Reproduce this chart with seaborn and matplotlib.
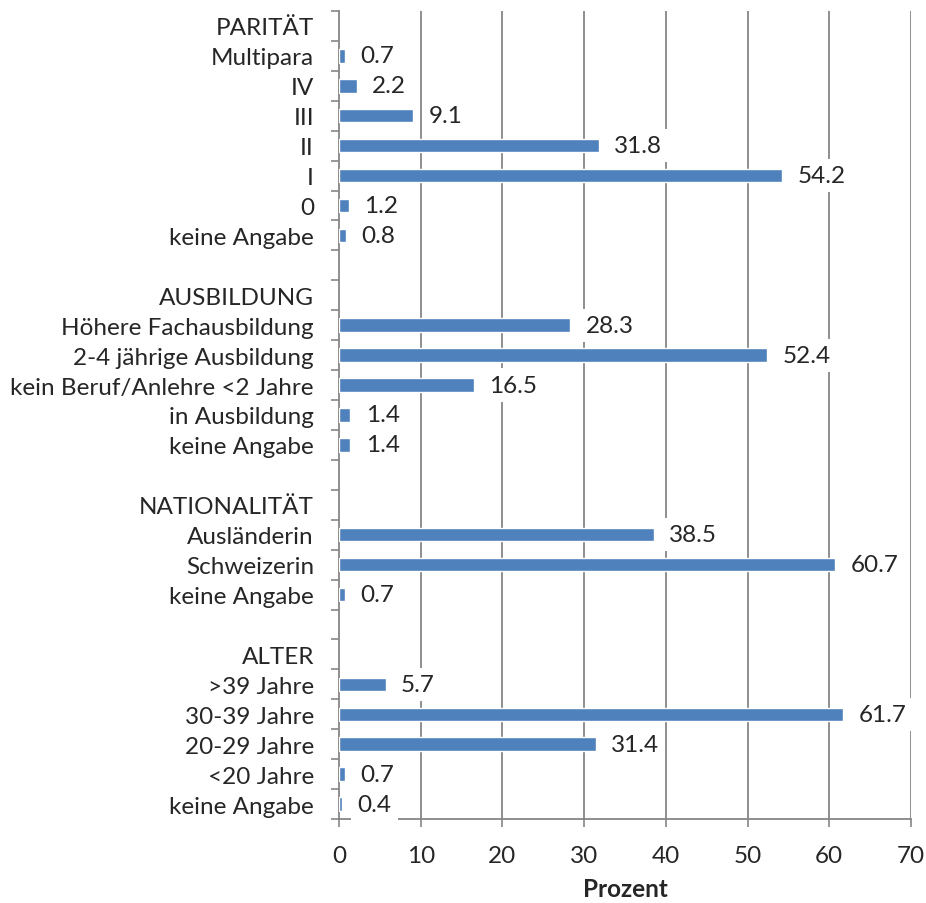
import numpy as np
import pandas as pd
import matplotlib
matplotlib.use('Agg')
import matplotlib.pyplot as plt
import seaborn as sns

# Daten (von oben nach unten), None = Überschrift / Leerzeile
labels = ["PARITÄT", "Multipara", "IV", "III", "II", "I", "0", "keine Angabe", "",
          "AUSBILDUNG", "Höhere Fachausbildung", "2-4 jährige Ausbildung",
          "kein Beruf/Anlehre <2 Jahre", "in Ausbildung", "keine Angabe", "",
          "NATIONALITÄT", "Ausländerin", "Schweizerin", "keine Angabe", "",
          "ALTER", ">39 Jahre", "30-39 Jahre", "20-29 Jahre", "<20 Jahre", "keine Angabe"]
values = [None, 0.7, 2.2, 9.1, 31.8, 54.2, 1.2, 0.8, None,
          None, 28.3, 52.4, 16.5, 1.4, 1.4, None,
          None, 38.5, 60.7, 0.7, None,
          None, 5.7, 61.7, 31.4, 0.7, 0.4]
x_ticks = [0, 10, 20, 30, 40, 50, 60, 70]

BAR_COLOR = '#4F81BD'
GRID_COLOR = '#868686'
FS = 17.5

sns.set_theme(style='white')
plt.rcParams['font.family'] = ['Lato', 'DejaVu Sans']

df = pd.DataFrame({'key': [f'r{i}' for i in range(len(labels))],
                   'label': labels,
                   'wert': [np.nan if v is None else v for v in values]})

fig = plt.figure(figsize=(9.26, 9.04), dpi=100)
ax = fig.add_axes([339 / 926, 1 - 820 / 904, (911 - 339) / 926, (820 - 12) / 904])

sns.barplot(data=df, x='wert', y='key', order=df['key'], color=BAR_COLOR,
            width=0.45, saturation=1, orient='h', ax=ax, zorder=3)

n = len(labels)
ax.set_xlim(0, 70)
ax.set_ylim(n - 0.5, -0.5)
ax.set_xticks(x_ticks)
ax.set_xticklabels([str(t) for t in x_ticks], fontsize=FS)
ax.set_yticks(range(n))
ax.set_yticklabels(labels, fontsize=FS)
ax.set_yticks(np.arange(-0.5, n, 1.0), minor=True)
ax.tick_params(axis='y', which='major', length=0, pad=18)
ax.tick_params(axis='y', which='minor', length=6, width=1.2, color=GRID_COLOR, left=True)
ax.tick_params(axis='x', which='major', length=6, width=1.2, color=GRID_COLOR, pad=13, bottom=True)

for v in x_ticks[1:]:
    ax.axvline(v, color=GRID_COLOR, lw=1.3, zorder=1)

for s in ['top', 'right']:
    ax.spines[s].set_visible(False)
for s in ['left', 'bottom']:
    ax.spines[s].set_color(GRID_COLOR)
    ax.spines[s].set_linewidth(1.3)

for i, v in enumerate(values):
    if v is None:
        continue
    ax.annotate(f'{v:.1f}', xy=(v, i), xytext=(11, 0), textcoords='offset points',
                ha='left', va='center', fontsize=FS, zorder=4,
                bbox=dict(boxstyle='square,pad=0.25', fc='white', ec='none'))

ax.set_xlabel('Prozent', fontsize=FS, fontweight='bold', labelpad=8)
ax.set_ylabel('')

fig.savefig('out.png', dpi=100)
